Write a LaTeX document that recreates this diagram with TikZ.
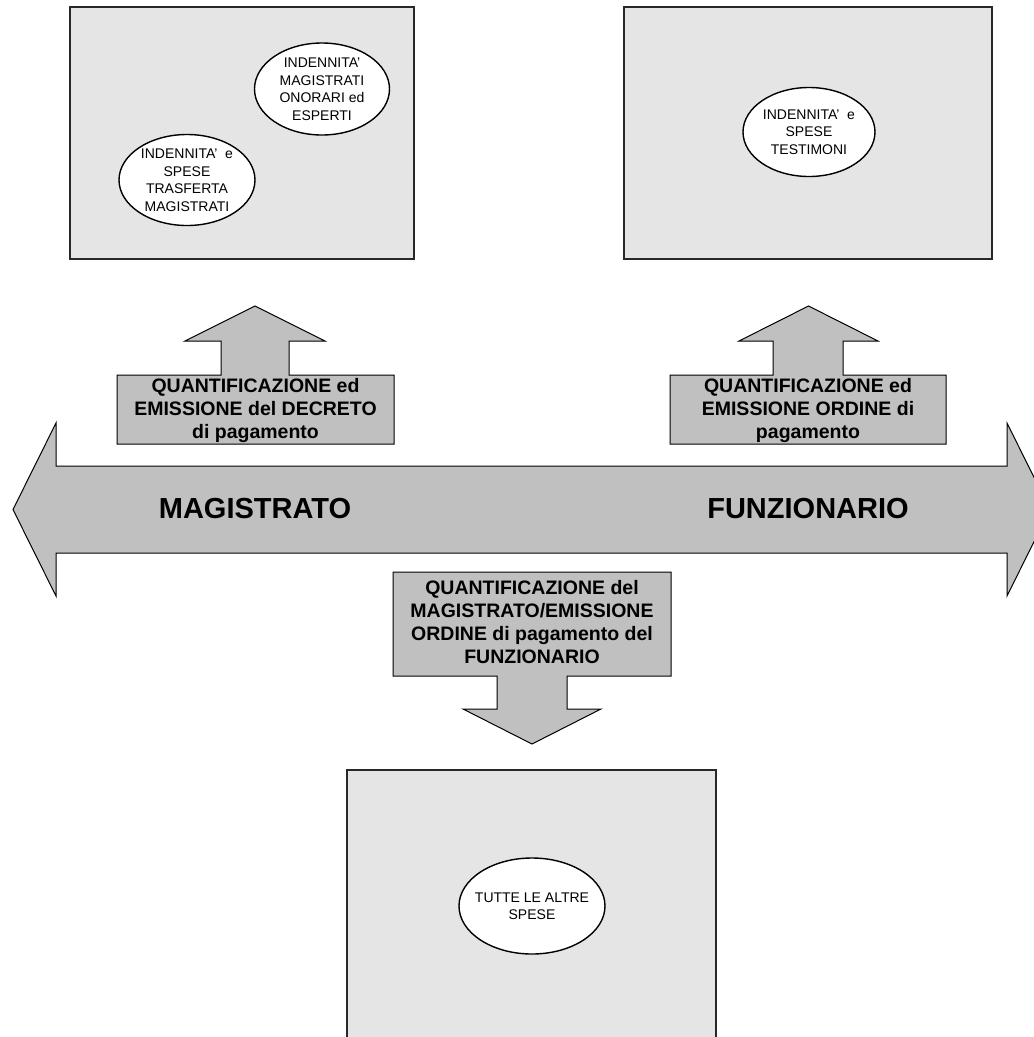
\documentclass[tikz,border=0pt]{standalone}
\usepackage{fontspec}
\setmainfont{Liberation Sans}
\usetikzlibrary{shapes.geometric}
\definecolor{panelfill}{RGB}{229,229,229}
\definecolor{arrowfill}{RGB}{192,192,192}
\definecolor{panelline}{RGB}{40,40,40}
\tikzset{
  panel/.style={draw=panelline, line width=1.4pt, fill=panelfill},
  bigarrow/.style={draw=black, line width=1pt, fill=arrowfill, line join=miter},
  bubble/.style={ellipse, draw=black, line width=1.4pt, fill=white, inner sep=0pt},
  bubtext/.style={align=center, inner sep=0pt, font=\fontsize{14}{17.5}\selectfont},
  calltext/.style={align=center, inner sep=0pt, font=\fontsize{19.5}{23}\selectfont\bfseries},
  roletext/.style={inner sep=0pt, font=\fontsize{29}{33}\selectfont\bfseries}
}
\begin{document}
\begin{tikzpicture}[x=1pt, y=-1pt]
\useasboundingbox (0,0) rectangle (1034,1037);
\clip (0,0) rectangle (1034,1037);

% three panels
\draw[panel] (70,7) rectangle (414,259);
\draw[panel] (624,7) rectangle (992,259);
\draw[panel] (347,770) rectangle (716,1050);

% bubbles inside the panels
\node[bubble, minimum width=135, minimum height=92] (e1) at (322,89) {};
\node[bubtext] (t1) at (e1) {INDENNITA'\\MAGISTRATI\\ONORARI ed\\ESPERTI};
\node[bubble, minimum width=136, minimum height=91] (e2) at (187,180) {};
\node[bubtext] (t2) at (e2) {INDENNITA'~~e\\SPESE\\TRASFERTA\\MAGISTRATI};
\node[bubble, minimum width=132, minimum height=89] (e3) at (809,132) {};
\node[bubtext] (t3) at (e3) {INDENNITA'~~e\\SPESE\\TESTIMONI};
\node[bubble, minimum width=146, minimum height=96] (e4) at (532,906) {};
\node[bubtext] (t4) at (e4) {TUTTE LE ALTRE\\SPESE};

% double-headed horizontal arrow
\draw[bigarrow] (13,509.5) -- (56,423) -- (56,466) -- (1007,466) -- (1007,423)
  -- (1050,509.5) -- (1007,596) -- (1007,553) -- (56,553) -- (56,596) -- cycle;
\node[roletext] (mag) at (255,509) {MAGISTRATO};
\node[roletext] (fun) at (808,509) {FUNZIONARIO};

% left callout pointing up
\draw[bigarrow] (117,375) -- (221,375) -- (221,341) -- (185,341) -- (255,306)
  -- (325,341) -- (289,341) -- (289,375) -- (394,375) -- (394,444) -- (117,444) -- cycle;
\node[calltext] (q1) at (255.5,410) {QUANTIFICAZIONE ed\\EMISSIONE del DECRETO\\di pagamento};

% right callout pointing up
\draw[bigarrow] (670,375) -- (773,375) -- (773,341) -- (739,341) -- (808.5,306)
  -- (878,341) -- (843,341) -- (843,375) -- (946,375) -- (946,444) -- (670,444) -- cycle;
\node[calltext] (q2) at (808,410) {QUANTIFICAZIONE ed\\EMISSIONE ORDINE di\\pagamento};

% central callout pointing down
\draw[bigarrow] (393,572) -- (671,572) -- (671,676) -- (567,676) -- (567,709)
  -- (601,709) -- (532,744) -- (463,709) -- (497,709) -- (497,676) -- (393,676) -- cycle;
\node[calltext] (q3) at (532,622) {QUANTIFICAZIONE del\\MAGISTRATO/EMISSIONE\\ORDINE di pagamento del\\FUNZIONARIO};
\end{tikzpicture}
\end{document}
